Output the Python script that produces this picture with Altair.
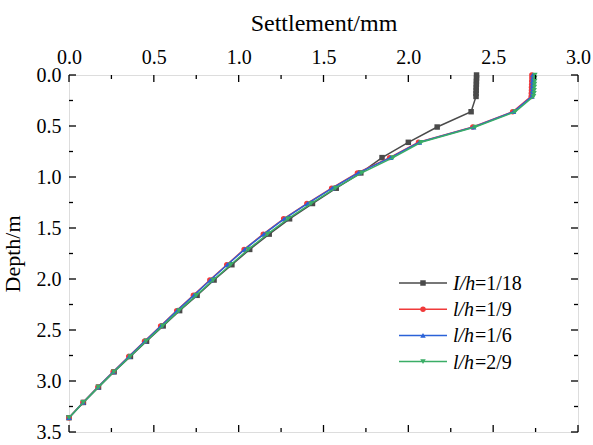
import altair as alt
import pandas as pd

# Depth of each monitoring point (m): dense points along the pile head, then 0.15 m steps
depth = [0.00, 0.03, 0.06, 0.09, 0.12, 0.15, 0.18, 0.21,
         0.36, 0.51, 0.66, 0.81, 0.96, 1.11, 1.26, 1.41, 1.56, 1.71,
         1.86, 2.01, 2.16, 2.31, 2.46, 2.61, 2.76, 2.91, 3.06, 3.21, 3.36]

# Settlement (mm) for each l/h ratio
s_1_18 = [2.402, 2.402, 2.401, 2.401, 2.400, 2.400, 2.399, 2.399,
          2.370, 2.170, 2.000, 1.845, 1.720, 1.575, 1.435, 1.300, 1.180, 1.065,
          0.960, 0.855, 0.755, 0.652, 0.555, 0.457, 0.362, 0.266, 0.174, 0.085, 0.000]
s_1_9 = [2.728, 2.728, 2.727, 2.727, 2.726, 2.726, 2.725, 2.724,
         2.615, 2.380, 2.060, 1.890, 1.700, 1.548, 1.402, 1.265, 1.145, 1.032,
         0.930, 0.830, 0.733, 0.635, 0.540, 0.445, 0.352, 0.260, 0.170, 0.082, 0.000]
s_1_6 = [2.733, 2.733, 2.732, 2.732, 2.731, 2.731, 2.730, 2.729,
         2.620, 2.385, 2.065, 1.895, 1.705, 1.552, 1.405, 1.268, 1.148, 1.035,
         0.933, 0.833, 0.736, 0.637, 0.542, 0.447, 0.354, 0.261, 0.171, 0.083, 0.000]
s_2_9 = [2.746, 2.745, 2.745, 2.744, 2.743, 2.742, 2.741, 2.738,
         2.630, 2.394, 2.075, 1.910, 1.725, 1.570, 1.426, 1.290, 1.170, 1.057,
         0.953, 0.850, 0.750, 0.648, 0.552, 0.454, 0.360, 0.265, 0.173, 0.084, 0.000]

series_keys = ["1/18", "1/9", "1/6", "2/9"]
series_vals = [s_1_18, s_1_9, s_1_6, s_2_9]
legend_var = ["I/h", "l/h", "l/h", "l/h"]
colors = ["#4a4a4a", "#f03a3a", "#2a62d8", "#3aad66"]
shapes = ["square", "circle", "triangle-up", "triangle-down"]

x_labels = [0, 0.5, 1.0, 1.5, 2.0, 2.5, 3.0]
y_labels = [0, 0.5, 1.0, 1.5, 2.0, 2.5, 3.0, 3.5]
x_ticks = [i * 0.25 for i in range(13)]
y_ticks = [i * 0.25 for i in range(15)]

W, H = 509, 357
FONT = "Liberation Serif"
MSIZE = 30

x_scale = alt.Scale(domain=[0, 3.0], nice=False, zero=False)
y_scale = alt.Scale(domain=[0, 3.5], reverse=True, nice=False, zero=False)

x_axis = alt.Axis(orient="top", values=x_labels, format=".1f", labelFlush=False,
                  title="Settlement/mm", tickSize=0, domain=False, grid=False,
                  labelPadding=8, titlePadding=12, labelFontSize=20, titleFontSize=24,
                  labelFont=FONT, titleFont=FONT, titleFontWeight="normal",
                  labelColor="#000", titleColor="#000")
y_axis = alt.Axis(orient="left", values=y_labels, format=".1f", labelFlush=False,
                  title="Depth/m", tickSize=0, domain=False, grid=False,
                  labelPadding=8, titlePadding=12, labelFontSize=20, titleFontSize=22,
                  labelFont=FONT, titleFont=FONT, titleFontWeight="normal",
                  labelColor="#000", titleColor="#000")


def X(field):
    return alt.X(field, scale=x_scale, axis=x_axis)


def Y(field):
    return alt.Y(field, scale=y_scale, axis=y_axis)


layers = []
for i, (key, vals) in enumerate(zip(series_keys, series_vals)):
    df = pd.DataFrame({"settlement": vals, "depth": depth})
    base = alt.Chart(df)
    line = base.mark_line(color=colors[i], strokeWidth=1.5).encode(
        x=X("settlement:Q"), y=Y("depth:Q"), order=alt.Order("depth:Q"))
    pts = base.mark_point(shape=shapes[i], filled=True, color=colors[i],
                          size=MSIZE, opacity=1).encode(x=X("settlement:Q"), y=Y("depth:Q"))
    layers += [line, pts]

# Inward-pointing tick marks on all four sides of the frame
def is_major(v):
    return abs(v / 0.5 - round(v / 0.5)) < 1e-9


xt = pd.DataFrame({"v": x_ticks, "major": [is_major(v) for v in x_ticks]})
yt = pd.DataFrame({"v": y_ticks, "major": [is_major(v) for v in y_ticks]})
tick_style = dict(color="#000", strokeWidth=1.3)
for side in ["top", "bottom"]:
    for major, ln in [(True, 7), (False, 4)]:
        sub = xt[xt["major"] == major]
        y0 = 0 if side == "top" else H
        y1 = ln if side == "top" else H - ln
        layers.append(alt.Chart(sub).mark_rule(**tick_style).encode(
            x=X("v:Q"), y=alt.value(y0), y2=alt.value(y1)))
for side in ["left", "right"]:
    for major, ln in [(True, 7), (False, 4)]:
        sub = yt[yt["major"] == major]
        x0 = 0 if side == "left" else W
        x1 = ln if side == "left" else W - ln
        layers.append(alt.Chart(sub).mark_rule(**tick_style).encode(
            y=Y("v:Q"), x=alt.value(x0), x2=alt.value(x1)))

# Legend drawn in the lower right of the plot area
dummy = pd.DataFrame({"k": [0]})
for i, key in enumerate(series_keys):
    ry = 208 + i * 26.2
    layers.append(alt.Chart(dummy).mark_rule(color=colors[i], strokeWidth=1.5).encode(
        x=alt.value(330), x2=alt.value(378), y=alt.value(ry)))
    layers.append(alt.Chart(dummy).mark_point(shape=shapes[i], filled=True, color=colors[i],
                                              size=MSIZE, opacity=1).encode(
        x=alt.value(354), y=alt.value(ry)))
    layers.append(alt.Chart(dummy).mark_text(text=legend_var[i], font=FONT, fontSize=20,
                                             fontStyle="italic", align="left", baseline="middle",
                                             color="#000").encode(
        x=alt.value(384), y=alt.value(ry + 1)))
    layers.append(alt.Chart(dummy).mark_text(text="=" + key, font=FONT, fontSize=20,
                                             align="left", baseline="middle",
                                             color="#000").encode(
        x=alt.value(406), y=alt.value(ry + 1)))

chart = alt.layer(*layers).properties(
    width=W, height=H,
    autosize=alt.AutoSizeParams(type="none"),
    padding={"left": 69, "top": 75, "right": 15, "bottom": 13},
).configure_view(stroke="#000", strokeWidth=1.5).configure(background="white")

chart.save("out.html", embed_options={"renderer": "svg", "actions": False})
